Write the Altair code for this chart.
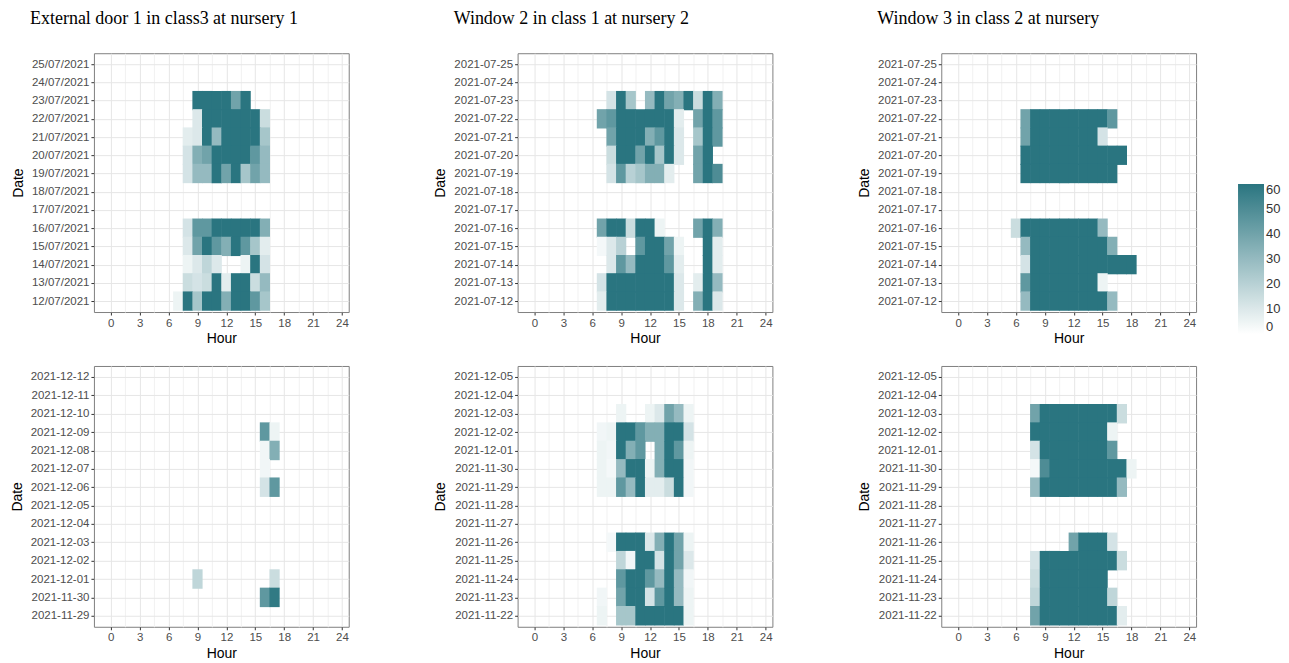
import altair as alt
import pandas as pd

# ---------------- data (minutes open per hour) ----------------
TITLES = ["External door 1 in class3 at nursery 1",
          "Window 2 in class 1 at nursery 2",
          "Window 3 in class 2 at nursery"]

DATES_P1 = ["25/07/2021", "24/07/2021", "23/07/2021", "22/07/2021", "21/07/2021",
            "20/07/2021", "19/07/2021", "18/07/2021", "17/07/2021", "16/07/2021",
            "15/07/2021", "14/07/2021", "13/07/2021", "12/07/2021"]
DATES_SUMMER = ["2021-07-25", "2021-07-24", "2021-07-23", "2021-07-22", "2021-07-21",
                "2021-07-20", "2021-07-19", "2021-07-18", "2021-07-17", "2021-07-16",
                "2021-07-15", "2021-07-14", "2021-07-13", "2021-07-12"]
DATES_P4 = ["2021-12-12", "2021-12-11", "2021-12-10", "2021-12-09", "2021-12-08",
            "2021-12-07", "2021-12-06", "2021-12-05", "2021-12-04", "2021-12-03",
            "2021-12-02", "2021-12-01", "2021-11-30", "2021-11-29"]
DATES_WINTER = ["2021-12-05", "2021-12-04", "2021-12-03", "2021-12-02", "2021-12-01",
                "2021-11-30", "2021-11-29", "2021-11-28", "2021-11-27", "2021-11-26",
                "2021-11-25", "2021-11-24", "2021-11-23", "2021-11-22"]

# each row: date -> (first hour, values for consecutive hours)
P1_ROWS = {
    "23/07/2021": (9, [60, 60, 60, 60, 40, 60]),
    "22/07/2021": (9, [10, 60, 60, 60, 60, 60, 60, 15]),
    "21/07/2021": (8, [8, 10, 60, 30, 60, 60, 60, 60, 25]),
    "20/07/2021": (8, [12, 35, 40, 60, 60, 60, 60, 45, 30]),
    "19/07/2021": (8, [12, 30, 30, 60, 40, 60, 25, 40, 30]),
    "16/07/2021": (8, [12, 45, 45, 60, 60, 60, 60, 60, 35]),
    "15/07/2021": (8, [10, 40, 60, 45, 35, 60, 45, 25, 8]),
    "14/07/2021": (8, [5, 10, 18, 10, 0, 0, 5, 60, 12]),
    "13/07/2021": (8, [15, 12, 15, 60, 8, 60, 60, 15, 30]),
    "12/07/2021": (7, [5, 60, 25, 60, 60, 35, 60, 60, 45, 25]),
}
P2_ROWS = {
    "2021-07-23": (8, [12, 60, 25, 0, 30, 60, 40, 35, 60, 15, 60, 35]),
    "2021-07-22": (7, [40, 45, 60, 60, 60, 60, 60, 60, 8, 0, 40, 60, 45]),
    "2021-07-21": (8, [40, 60, 60, 60, 35, 45, 60, 10, 0, 25, 60, 45]),
    "2021-07-20": (8, [15, 60, 60, 40, 60, 25, 60, 10, 0, 40, 60]),
    "2021-07-19": (8, [12, 45, 20, 25, 35, 35, 8, 0, 0, 40, 60, 50]),
    "2021-07-16": (7, [40, 60, 60, 15, 60, 60, 5, 0, 0, 0, 40, 60, 35]),
    "2021-07-15": (7, [3, 10, 20, 0, 45, 60, 60, 40, 5, 0, 0, 60, 8]),
    "2021-07-14": (8, [10, 45, 30, 60, 60, 60, 45, 8, 0, 0, 60, 8]),
    "2021-07-13": (7, [12, 60, 60, 60, 60, 60, 60, 60, 10, 0, 8, 60, 30]),
    "2021-07-12": (7, [8, 60, 60, 60, 60, 60, 60, 60, 10, 0, 35, 60, 10]),
}
P3_ROWS = {
    "2021-07-22": (7, [40, 60, 60, 60, 60, 60, 60, 60, 60, 45]),
    "2021-07-21": (7, [40, 60, 60, 60, 60, 60, 60, 60, 12]),
    "2021-07-20": (7, [60, 60, 60, 60, 60, 60, 60, 60, 60, 60, 60]),
    "2021-07-19": (7, [60, 60, 60, 60, 60, 60, 60, 60, 60, 60]),
    "2021-07-16": (6, [15, 60, 60, 60, 60, 60, 60, 60, 60, 30]),
    "2021-07-15": (7, [30, 60, 60, 60, 60, 60, 60, 60, 60, 35]),
    "2021-07-14": (7, [12, 60, 60, 60, 60, 60, 60, 60, 60, 60, 60, 60]),
    "2021-07-13": (7, [45, 60, 60, 60, 60, 60, 60, 60, 5]),
    "2021-07-12": (7, [30, 60, 60, 60, 60, 60, 60, 60, 60, 30]),
}
P4_ROWS = {
    "2021-12-09": (16, [45, 5]),
    "2021-12-08": (16, [4, 35]),
    "2021-12-07": (16, [4]),
    "2021-12-06": (16, [12, 45]),
    "2021-12-01": (9, [18, 0, 0, 0, 0, 0, 0, 0, 15]),
    "2021-11-30": (16, [45, 58]),
}
P5_ROWS = {
    "2021-12-03": (9, [5, 0, 0, 5, 10, 40, 30, 5]),
    "2021-12-02": (7, [4, 5, 60, 60, 45, 35, 35, 60, 60, 12]),
    "2021-12-01": (7, [5, 4, 60, 35, 45, 0, 35, 60, 45, 5]),
    "2021-11-30": (7, [5, 3, 30, 60, 60, 5, 35, 60, 60, 4]),
    "2021-11-29": (7, [5, 5, 45, 30, 60, 8, 8, 15, 60, 4]),
    "2021-11-26": (8, [3, 60, 60, 60, 10, 35, 60, 40, 5]),
    "2021-11-25": (9, [18, 4, 60, 60, 12, 60, 40, 10]),
    "2021-11-24": (9, [45, 60, 60, 45, 30, 60, 30, 4]),
    "2021-11-23": (7, [4, 0, 40, 60, 60, 12, 45, 60, 30, 5]),
    "2021-11-22": (7, [5, 0, 25, 25, 60, 60, 60, 60, 60, 5]),
}
P6_ROWS = {
    "2021-12-03": (8, [40, 60, 60, 60, 60, 60, 60, 60, 60, 15]),
    "2021-12-02": (8, [60, 60, 60, 60, 60, 60, 60, 60, 5]),
    "2021-12-01": (8, [12, 60, 60, 60, 60, 60, 60, 60, 45]),
    "2021-11-30": (8, [3, 50, 60, 60, 60, 60, 60, 60, 60, 60, 5]),
    "2021-11-29": (8, [30, 60, 60, 60, 60, 60, 60, 60, 60, 30]),
    "2021-11-26": (12, [40, 60, 60, 60, 12]),
    "2021-11-25": (8, [12, 60, 60, 60, 60, 60, 60, 60, 60, 15]),
    "2021-11-24": (8, [15, 60, 60, 60, 60, 60, 60, 60]),
    "2021-11-23": (8, [18, 60, 60, 60, 60, 60, 60, 60, 18]),
    "2021-11-22": (8, [40, 60, 60, 60, 60, 60, 60, 60, 60, 8]),
}

X_GRID = [0, 1.5, 3, 4.5, 6, 7.5, 9, 10.5, 12, 13.5, 15, 16.5, 18, 19.5, 21, 22.5, 24]
LEGEND_VALUES = [0, 10, 20, 30, 40, 50, 60]


def to_frame(rows, dates):
    recs = []
    for d, (start, vals) in rows.items():
        for i, v in enumerate(vals):
            if v > 0:
                recs.append({"date": d, "row": dates.index(d), "hour": start + i, "value": v})
    return pd.DataFrame(recs)


LOW, HIGH = "#FFFFFF", "#2A7580"
PW = 255


def heat(rows, dates, height, title=None):
    props = {"width": PW, "height": height}
    if title:
        props["title"] = alt.TitleParams(
            title, anchor="start", frame="group", dx=-64, offset=11,
            baseline="alphabetic", font="Liberation Serif", fontSize=18,
            fontWeight="normal", color="black")
    cscale = alt.Scale(domain=[0, 60], range=[LOW, HIGH], interpolate="rgb")
    label_js = "[" + ",".join("'" + d + "'" for d in dates) + "][datum.value]"
    # tiles overlap their neighbours very slightly so no antialiasing seams show
    return alt.Chart(to_frame(rows, dates)).transform_calculate(
        h0="datum.hour - 0.53", h1="datum.hour + 0.53",
        r0="datum.row - 0.53", r1="datum.row + 0.53",
    ).mark_rect(strokeWidth=0, opacity=1).encode(
        x=alt.X("h0:Q", title="Hour",
                scale=alt.Scale(domain=[-1.75, 24.7], nice=False, zero=False),
                axis=alt.Axis(values=X_GRID, grid=True,
                              labelExpr="datum.value % 3 === 0 ? datum.label : ''",
                              tickColor={"condition": {"test": "datum.value % 3 !== 0", "value": "transparent"},
                                         "value": "#333333"},
                              gridColor={"condition": {"test": "datum.value % 3 !== 0", "value": "#F1F1F1"},
                                         "value": "#E6E6E6"},
                              titlePadding=3)),
        x2="h1:Q",
        y=alt.Y("r0:Q", title="Date",
                scale=alt.Scale(domain=[-0.6, len(dates) - 0.4], reverse=True,
                                nice=False, zero=False),
                axis=alt.Axis(values=list(range(len(dates))), labelExpr=label_js,
                              grid=True, gridColor="#E6E6E6", titlePadding=6)),
        y2="r1:Q",
        color=alt.Color("value:Q", title="", scale=cscale,
                        legend=alt.Legend(orient="none", legendX=1145, legendY=131,
                                          direction="vertical", gradientLength=150,
                                          gradientThickness=26, values=LEGEND_VALUES,
                                          labelFontSize=13, labelColor="#333333",
                                          labelFont="Liberation Sans",
                                          labelBaseline="middle",
                                          gradientStrokeWidth=0)),
    ).properties(**props)


top = alt.hconcat(
    heat(P1_ROWS, DATES_P1, 259, TITLES[0]),
    heat(P2_ROWS, DATES_SUMMER, 259, TITLES[1]),
    heat(P3_ROWS, DATES_SUMMER, 259, TITLES[2]),
    spacing=169, bounds="flush")
bottom = alt.hconcat(
    heat(P4_ROWS, DATES_P4, 261),
    heat(P5_ROWS, DATES_WINTER, 261),
    heat(P6_ROWS, DATES_WINTER, 261),
    spacing=169, bounds="flush")

chart = alt.vconcat(top, bottom, spacing=19).properties(
    padding={"top": 1, "left": 1, "right": 0, "bottom": 0}
).configure_axis(
    labelFont="Liberation Sans", labelFontSize=11.5, labelColor="#4D4D4D",
    titleFont="Liberation Sans", titleFontSize=14, titleFontWeight="normal",
    titleColor="black", tickSize=3, tickColor="#333333", domain=False,
).configure_view(stroke="#7F7F7F", strokeWidth=1)

chart.save("out.html", embed_options={"renderer": "svg", "actions": False})
